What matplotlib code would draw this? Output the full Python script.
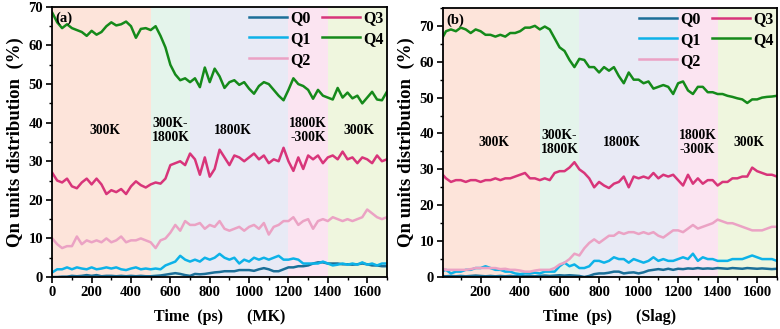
import numpy as np
import matplotlib
matplotlib.use('Agg')
import matplotlib.pyplot as plt
from matplotlib.ticker import MultipleLocator

plt.rcParams['font.family'] = ['Liberation Serif', 'DejaVu Serif']
plt.rcParams['font.weight'] = 'bold'

# time axis (ps), one sample every 25 ps
time = np.arange(0, 1701, 25)

# (a) MK
q0_a = [0, 0, 0.1, 0.1, 0.3, 0.2, 0.3, 0.5, 0.3, 0.5,
        0.2, 0.3, 0.3, 0.2, 0.3, 0.2, 0.3, 0.2, 0.3, 0.2,
        0.2, 0.3, 0.4, 0.6, 0.8, 1, 0.8, 0.5, 0.3, 0.8,
        0.7, 0.8, 1, 1.2, 1.3, 1.5, 1.5, 1.5, 1.8, 1.8,
        1.8, 1.6, 2, 2.3, 2, 1.5, 1.5, 2, 2.5, 2.5,
        2.8, 2.8, 3, 3.5, 3.8, 3.8, 3.5, 3.5, 3.5, 3.3,
        3.3, 3.2, 3.3, 3.5, 3.3, 3, 3, 2.8, 2.8]
q1_a = [1.2, 2, 2, 2.5, 2, 2.5, 2.2, 2, 2.5, 2,
        2.2, 2.5, 2.2, 2.5, 2, 1.8, 2.2, 2.5, 2, 2.2,
        2, 2.2, 2, 3, 3.5, 4, 5.5, 4.5, 4, 4.5,
        4, 5, 4.5, 5, 6, 5, 4.5, 5, 3.5, 4.5,
        4, 5, 4.5, 5, 4.5, 5, 5.5, 4.5, 4.5, 4.8,
        4.5, 3.5, 3.5, 3.5, 3.5, 4, 3.5, 3, 3.2, 3.5,
        3.2, 3.5, 3.2, 3.8, 3.2, 3.5, 3, 3.5, 3.5]
q2_a = [10, 8.5, 7.5, 8, 8, 10.5, 8.5, 9.5, 9, 9.5,
        9, 10, 9, 9.5, 10.5, 9, 9.5, 9.5, 10, 9.5,
        9, 7.5, 9.5, 10, 11.5, 13.5, 12, 14.5, 13.5, 13.5,
        14, 12.5, 13.5, 13, 14.5, 12.5, 12, 12.5, 13, 12,
        13, 13.5, 12.5, 14, 11, 13, 13.5, 14.5, 14.5, 15.5,
        13.5, 14.5, 15, 12.5, 14.5, 15, 14.5, 15.5, 15, 14.5,
        15, 14.5, 15, 15.5, 17.5, 16.5, 15.5, 15, 15.5]
q3_a = [27, 25, 24.5, 25.5, 23.5, 23, 24.5, 25.5, 24, 25.5,
        24, 21.5, 22.5, 22, 22.8, 21.5, 23.5, 24.8, 23.8, 23.2,
        24, 24.5, 24.2, 25.5, 29, 29.5, 30, 29, 32, 30.5,
        26.5, 31, 26, 28, 33, 31, 29, 31.5, 31, 30,
        31, 32, 30.5, 31.5, 29.5, 30.5, 30, 33.5, 30, 27.5,
        31, 28, 31.5, 30.5, 31.5, 29.5, 31, 31.5, 30.5, 32.5,
        30.5, 31, 29.5, 31, 30.5, 29.5, 31.5, 30, 30.5]
q4_a = [68.5, 66, 64.5, 65.5, 64.5, 64, 63.5, 62.5, 63.8, 62.8,
        63.5, 65, 66, 65.2, 65.5, 66.2, 65, 62, 64.3, 64.5,
        64, 65, 62.5, 59.5, 55, 52.5, 51, 51.5, 50.5, 51.5,
        49.2, 54.3, 50.5, 54, 52, 49, 50.5, 51, 49.8, 50.5,
        48.8, 47.5, 49.5, 50.5, 50, 48.5, 47, 45.8, 48.5, 51.5,
        50, 49.5, 48.5, 46.2, 48.5, 47, 46.5, 46, 49, 46.5,
        47.8, 46.3, 47, 45, 46.5, 48, 46, 45.8, 48]

# (b) Slag
q0_b = [0.3, 0.2, 0.3, 0.2, 0.3, 0.2, 0.3, 0.4, 0.3, 0.2,
        0.3, 0.2, 0.3, 0.2, 0.3, 0.2, 0.3, 0.2, 0.3, 0.2,
        0.3, 0.4, 0.3, 0.4, 0.5, 0.4, 0.5, 0.4, 0.3, 0,
        0.3, 0.8, 1, 1, 1.2, 1.5, 1.5, 1, 1.2, 1.3,
        1, 1.3, 1.8, 2, 2.2, 2, 2.3, 2, 2.3, 2.2,
        2.4, 2.3, 2.5, 2.3, 2.4, 2.3, 2.5, 2.4, 2.3, 2.5,
        2.4, 2.3, 2.5, 2.4, 2.3, 2.4, 2.3, 2.2, 2.3]
q1_b = [1.5, 2, 1, 1.5, 1.5, 2, 2, 2.5, 2.5, 3,
        2.5, 2, 2, 1.5, 1.5, 1, 0.8, 1, 1, 1.2,
        1, 1.5, 1.5, 1.5, 3, 4, 3, 3.5, 2.5, 2.5,
        3, 4.5, 4.5, 4, 4.5, 5.5, 5, 5, 4, 5,
        4.5, 4, 4.5, 5.5, 4.5, 5, 4.5, 4.5, 5, 5.5,
        5, 6.5, 4.5, 5.5, 5, 5, 4.5, 4.5, 4.5, 5,
        5, 5, 5.5, 6, 5.5, 5, 5, 5, 4.5]
q2_b = [2.5, 2, 2, 2, 2, 2, 2.2, 2.5, 2.5, 2.5,
        2.5, 2.5, 2.2, 2.3, 2, 2, 1.8, 1.5, 1.5, 1.8,
        2, 2, 2, 2.5, 3.5, 4, 5, 6.5, 6, 8,
        9.5, 10.5, 9.5, 10.5, 11.5, 11.5, 12.5, 12, 12.5, 12.5,
        12, 12.5, 12, 12.5, 11.5, 11, 12, 13, 13, 12.5,
        13.5, 14.5, 13.5, 14, 14.5, 15, 16, 15.5, 15, 15,
        14.5, 14, 13.5, 13, 13, 13, 13.5, 14, 14]
q3_b = [29, 27.5, 26.5, 27, 27, 26.5, 27, 27, 26.5, 27,
        27, 27.5, 27, 27.5, 27.5, 28, 28.5, 29, 27.5, 27.5,
        27, 27.5, 27, 29, 29.5, 29.5, 30.5, 32, 30, 29,
        27.5, 25, 26.5, 25.5, 24.8, 26, 26.5, 28, 25, 28,
        27.5, 28, 27.5, 29, 27.5, 28.5, 28, 28.5, 27, 25.5,
        28.5, 26, 27.5, 26, 27, 27, 25.5, 26.5, 26.5, 27.5,
        27.5, 28, 28, 30.5, 29.5, 29, 28.5, 28.5, 28]
q4_b = [66, 68.5, 69, 68.5, 69.5, 69, 68, 69, 68.5, 67.5,
        67.5, 67, 67.5, 67, 68, 68, 68.5, 69.5, 69.5, 70,
        69, 69.8, 69, 66.5, 64, 63, 60.5, 58.5, 60.8, 60.5,
        58.5, 58.5, 57, 58.5, 57.5, 58.5, 56, 54, 57, 55,
        55, 54, 54.5, 52.5, 53, 53.5, 53, 51, 54, 54.5,
        52, 51, 53, 53, 51.5, 51.5, 51, 51, 50.5, 50.2,
        49.8, 49.5, 48.5, 49.5, 49.5, 50, 50.2, 50.3, 50.5]

series_names = ['Q0', 'Q1', 'Q2', 'Q3', 'Q4']
series_colors = ['#1b6f98', '#0db2e8', '#eba2c4', '#d8357a', '#158a1a']

# temperature stages
stage_edges = [0, 500, 700, 1200, 1400, 1700]
stage_colors = ['#fde4da', '#e4f4eb', '#e8eaf5', '#fbe4f1', '#eff6de']
stage_labels = ['300K', '300K-\n1800K', '1800K', '1800K\n-300K', '300K']
stage_label_x = [270, 600, 915, 1298, 1560]

fig = plt.figure(figsize=(7.8, 3.29), dpi=100)
ax_a = fig.add_axes([0.067, 0.158, 0.429, 0.821])
ax_b = fig.add_axes([0.568, 0.158, 0.428, 0.818])

panels = [
    (ax_a, [q0_a, q1_a, q2_a, q3_a, q4_a], '(a)', 'MK', (0, 1700), 70, 38, (15, 67)),
    (ax_b, [q0_b, q1_b, q2_b, q3_b, q4_b], '(b)', 'Slag', (10, 1700), 75, 37.5, (25, 71.5)),
]

for ax, data, tag, sample, xlim, ytop, label_y, tag_xy in panels:
    for i in range(len(stage_colors)):
        ax.axvspan(stage_edges[i], stage_edges[i + 1], color=stage_colors[i], lw=0, zorder=0)
        ax.text(stage_label_x[i], label_y, stage_labels[i], ha='center', va='center',
                fontsize=9.8, fontweight='bold', linespacing=1.05)
    for vals, name, c in zip(data, series_names, series_colors):
        ax.plot(time, vals, color=c, lw=1.8, label=name, zorder=2)
    ax.set_xlim(*xlim)
    ax.set_ylim(0, ytop)
    ax.xaxis.set_major_locator(MultipleLocator(200))
    ax.xaxis.set_minor_locator(MultipleLocator(100))
    ax.yaxis.set_major_locator(MultipleLocator(10))
    ax.yaxis.set_minor_locator(MultipleLocator(5))
    ax.tick_params(which='major', direction='out', length=4, width=1.2, labelsize=10.5, pad=2.5)
    ax.tick_params(which='minor', direction='out', length=2, width=1)
    for lab in ax.get_xticklabels() + ax.get_yticklabels():
        lab.set_fontweight('bold')
    for sp in ax.spines.values():
        sp.set_linewidth(1.3)
    ax.set_xlabel('Time  (ps)      (' + sample + ')', fontsize=11.5, fontweight='bold', labelpad=7)
    ax.set_ylabel('Qn units distribution  (%)', fontsize=13.5, fontweight='bold', labelpad=3)
    ax.text(tag_xy[0], tag_xy[1], tag, fontsize=10.5, fontweight='bold', ha='left', va='center')
    ax.legend(loc='upper right', ncol=2, frameon=False, handlelength=2.4,
              handletextpad=0.2, columnspacing=0.7, labelspacing=0.3,
              borderaxespad=0.1, borderpad=0.1, prop={'weight': 'bold', 'size': 11.5})

plt.savefig('out.png', dpi=100)
